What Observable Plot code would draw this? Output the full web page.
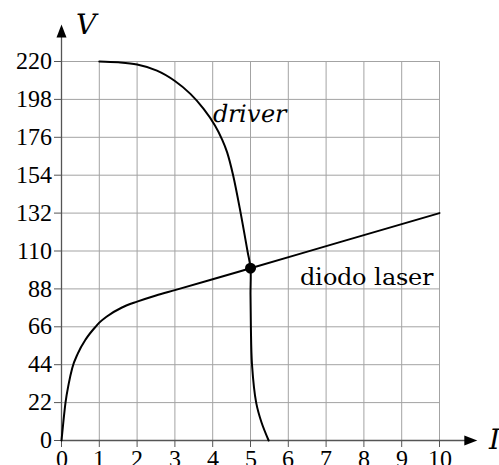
<!DOCTYPE html>
<html>
<head>
<meta charset="utf-8">
<script src="https://cdn.jsdelivr.net/npm/d3@7"></script>
<script src="https://cdn.jsdelivr.net/npm/@observablehq/plot@0.6"></script>
<style>
  @font-face { font-family: "TickSerif"; font-style: normal; src: local("Liberation Serif"), local("LiberationSerif"), local("LiberationSerif-Regular"), local("Tinos"), local("DejaVu Serif"), local("DejaVuSerif"); }
  @font-face { font-family: "LabelSerif"; font-style: normal; src: local("DejaVu Serif"), local("DejaVuSerif"), local("Liberation Serif"), local("LiberationSerif-Regular"); }
  @font-face { font-family: "LabelSerif"; font-style: italic; src: local("DejaVu Serif Italic"), local("DejaVuSerif-Italic"), local("Liberation Serif Italic"), local("LiberationSerif-Italic"); }
  html, body { margin: 0; padding: 0; background: #fff; }
  #chart svg text { font-family: "TickSerif", "Liberation Serif", "DejaVu Serif", Times, serif; }
  #chart svg text.label-wide { font-family: "LabelSerif", "DejaVu Serif", "Liberation Serif", serif; }
</style>
</head>
<body>
<div id="chart"></div>
<script>
// Tick values for current I and voltage V
const xTicks = [0, 1, 2, 3, 4, 5, 6, 7, 8, 9, 10];
const yTicks = [0, 22, 44, 66, 88, 110, 132, 154, 176, 198, 220];

// Laser diode characteristic (I, V)
const diodeI = [0, 0.053, 0.106, 0.19, 0.283, 0.434, 0.64, 0.9, 1.0, 1.2, 1.6, 2.0, 2.5, 3, 4, 5, 7.5, 10];
const diodeV = [0, 11.6, 22, 32.9, 42, 50.6, 58.7, 66, 68.4, 72.0, 77.2, 80.6, 84.2, 87.3, 93.6, 100, 116, 132];

// Driver output characteristic (I, V)
const driverI = [1, 1.5, 2, 2.525, 3, 3.41, 3.76, 4.06, 4.25, 4.38, 4.54, 4.74, 4.92, 5.0, 5.0, 5.01, 5.04, 5.15, 5.29, 5.48];
const driverV = [220, 219.5, 218.2, 214.7, 208.7, 201.2, 192.5, 182.9, 174.7, 167.4, 154, 132, 110, 100, 85, 66, 44, 22, 10.6, 0];

// Operating point
const opI = [5];
const opV = [100];

// Curve labels and axis names
const curveLabels = ["driver", "diodo laser"];
const axisNames = ["V", "I"];

const diode = diodeI.map((I, i) => ({I, V: diodeV[i]}));
const driver = driverI.map((I, i) => ({I, V: driverV[i]}));
const op = opI.map((I, i) => ({I, V: opV[i]}));

// Filled arrowheads for the axes
const arrowRight = {draw(ctx) { ctx.moveTo(0, 0); ctx.lineTo(-13, -5); ctx.lineTo(-13, 5); ctx.closePath(); }};
const arrowUp = {draw(ctx) { ctx.moveTo(0, 0); ctx.lineTo(-5, 13); ctx.lineTo(5, 13); ctx.closePath(); }};

const chart = Plot.plot({
  width: 499,
  height: 465,
  marginLeft: 61,
  marginRight: 60,
  marginTop: 61,
  marginBottom: 25,
  style: {fontSize: "24px", background: "#fff", color: "#000"},
  x: {domain: [0, 10]},
  y: {domain: [0, 220]},
  marks: [
    // grid
    Plot.ruleX(xTicks.slice(1), {y1: 0, y2: 220, stroke: "#a3a3a3", strokeWidth: 1}),
    Plot.ruleY(yTicks.slice(1), {x1: 0, x2: 10, stroke: "#a3a3a3", strokeWidth: 1}),
    // axes
    Plot.axisX(xTicks, {tickSize: 7, tickPadding: 2, stroke: "#555", fill: "#000", fontSize: 24, label: null}),
    Plot.axisY(yTicks, {tickSize: 7, tickPadding: 3, stroke: "#555", fill: "#000", fontSize: 24, label: null}),
    Plot.ruleY([0], {x1: 0, x2: 10.8, stroke: "#555", strokeWidth: 1.3}),
    Plot.ruleX([0], {y1: 0, y2: 234, stroke: "#555", strokeWidth: 1.3}),
    Plot.dot([{I: 11.0, V: 0}], {x: "I", y: "V", symbol: arrowRight, fill: "#000", stroke: "none"}),
    Plot.dot([{I: 0, V: 241.5}], {x: "I", y: "V", symbol: arrowUp, fill: "#000", stroke: "none"}),
    // curves
    Plot.line(diode, {x: "I", y: "V", curve: "monotone-x", stroke: "#000", strokeWidth: 2}),
    Plot.line(driver, {x: "I", y: "V", curve: "catmull-rom", stroke: "#000", strokeWidth: 2}),
    Plot.dot(op, {x: "I", y: "V", r: 5.5, fill: "#000", stroke: "none"}),
    // labels
    Plot.text([curveLabels[0]], {x: 4.0, y: 189.2, text: d => d, textAnchor: "start", fontStyle: "italic", fontSize: 24, fill: "#000"}),
    Plot.text([curveLabels[1]], {x: 6.32, y: 94.5, text: d => d, textAnchor: "start", fontSize: 24, fill: "#000"}),
    Plot.text([axisNames[0]], {x: 0.66, y: 240.9, text: d => d, textAnchor: "middle", fontStyle: "italic", fontSize: 28, fill: "#000"}),
    Plot.text([axisNames[1]], {x: 11.32, y: 0, text: d => d, textAnchor: "start", fontStyle: "italic", fontSize: 28, fill: "#000"})
  ]
});

// the curve labels and axis names use a wider serif face
d3.select(chart).selectAll("text")
  .filter(function() { return curveLabels.includes(this.textContent) || axisNames.includes(this.textContent); })
  .classed("label-wide", true);

document.getElementById("chart").append(chart);
</script>
</body>
</html>
